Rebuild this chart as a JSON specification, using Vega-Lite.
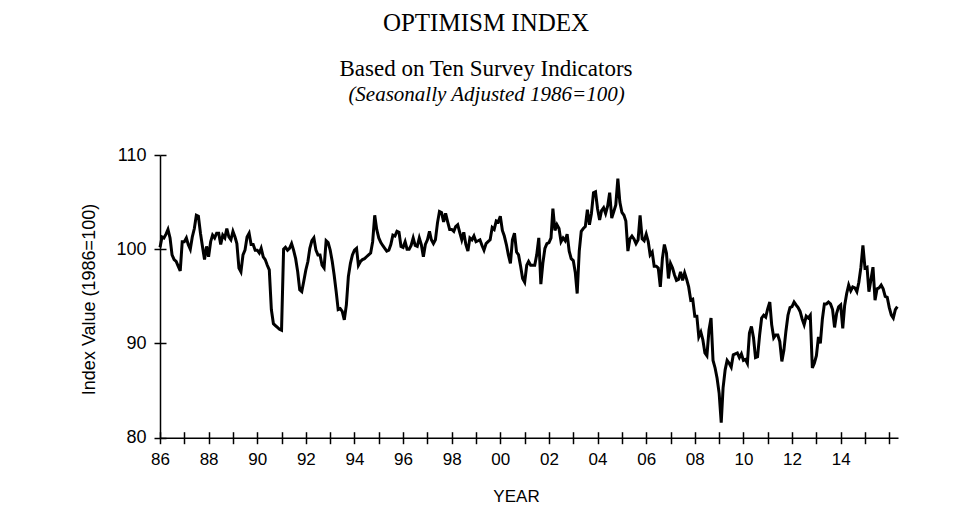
{
"$schema": "https://vega.github.io/schema/vega-lite/v6.json",
"width": 738, "height": 282.7,
"autosize": {"type": "none"},
"padding": {"left": 160, "top": 155, "right": 67, "bottom": 79.3},
"background": "white",
"config": {"view": {"stroke": null}},
"title": {"text": "OPTIMISM INDEX", "subtitle": "Based on Ten Survey Indicators", "font": "Liberation Serif", "fontSize": 25, "fontWeight": "normal", "color": "black", "subtitleFont": "Liberation Serif", "subtitleFontSize": 23, "subtitleColor": "black", "subtitlePadding": 22, "anchor": "middle", "frame": "group", "dx": -43, "offset": 2},
"data": {"values": [
{"d":"1986-01","v":100.2},{"d":"1986-02","v":101.3},{"d":"1986-03","v":101.2},{"d":"1986-04","v":101.6},{"d":"1986-05","v":102.1},{"d":"1986-06","v":101.2},{"d":"1986-07","v":99.4},{"d":"1986-08","v":98.9},{"d":"1986-09","v":98.7},{"d":"1986-10","v":98.2},{"d":"1986-11","v":97.7},{"d":"1986-12","v":100.8},
{"d":"1987-01","v":100.8},{"d":"1987-02","v":101.2},{"d":"1987-03","v":100.5},{"d":"1987-04","v":100.0},{"d":"1987-05","v":101.3},{"d":"1987-06","v":102.2},{"d":"1987-07","v":103.6},{"d":"1987-08","v":103.5},{"d":"1987-09","v":101.7},{"d":"1987-10","v":100.3},{"d":"1987-11","v":98.9},{"d":"1987-12","v":100.3},
{"d":"1988-01","v":99.2},{"d":"1988-02","v":100.8},{"d":"1988-03","v":101.5},{"d":"1988-04","v":101.2},{"d":"1988-05","v":101.7},{"d":"1988-06","v":101.7},{"d":"1988-07","v":100.5},{"d":"1988-08","v":101.5},{"d":"1988-09","v":101.2},{"d":"1988-10","v":102.2},{"d":"1988-11","v":101.3},{"d":"1988-12","v":101.0},
{"d":"1989-01","v":101.9},{"d":"1989-02","v":101.3},{"d":"1989-03","v":100.6},{"d":"1989-04","v":98.0},{"d":"1989-05","v":97.6},{"d":"1989-06","v":99.4},{"d":"1989-07","v":99.9},{"d":"1989-08","v":101.3},{"d":"1989-09","v":101.7},{"d":"1989-10","v":100.5},{"d":"1989-11","v":100.5},{"d":"1989-12","v":99.9},
{"d":"1990-01","v":99.9},{"d":"1990-02","v":99.6},{"d":"1990-03","v":100.1},{"d":"1990-04","v":99.2},{"d":"1990-05","v":98.9},{"d":"1990-06","v":98.3},{"d":"1990-07","v":97.8},{"d":"1990-08","v":93.6},{"d":"1990-09","v":92.1},{"d":"1990-10","v":91.9},{"d":"1990-11","v":91.7},{"d":"1990-12","v":91.5},
{"d":"1991-01","v":91.4},{"d":"1991-02","v":100.0},{"d":"1991-03","v":100.2},{"d":"1991-04","v":99.9},{"d":"1991-05","v":100.1},{"d":"1991-06","v":100.6},{"d":"1991-07","v":99.9},{"d":"1991-08","v":99.0},{"d":"1991-09","v":97.6},{"d":"1991-10","v":95.7},{"d":"1991-11","v":95.5},{"d":"1991-12","v":96.6},
{"d":"1992-01","v":97.8},{"d":"1992-02","v":98.7},{"d":"1992-03","v":100.1},{"d":"1992-04","v":100.9},{"d":"1992-05","v":101.2},{"d":"1992-06","v":99.9},{"d":"1992-07","v":99.4},{"d":"1992-08","v":99.4},{"d":"1992-09","v":98.3},{"d":"1992-10","v":98.0},{"d":"1992-11","v":100.9},{"d":"1992-12","v":100.7},
{"d":"1993-01","v":99.9},{"d":"1993-02","v":98.7},{"d":"1993-03","v":97.3},{"d":"1993-04","v":95.5},{"d":"1993-05","v":93.6},{"d":"1993-06","v":93.7},{"d":"1993-07","v":93.4},{"d":"1993-08","v":92.5},{"d":"1993-09","v":94.1},{"d":"1993-10","v":97.1},{"d":"1993-11","v":98.5},{"d":"1993-12","v":99.4},
{"d":"1994-01","v":99.9},{"d":"1994-02","v":100.1},{"d":"1994-03","v":98.3},{"d":"1994-04","v":98.7},{"d":"1994-05","v":98.9},{"d":"1994-06","v":99.0},{"d":"1994-07","v":99.2},{"d":"1994-08","v":99.4},{"d":"1994-09","v":99.6},{"d":"1994-10","v":100.8},{"d":"1994-11","v":103.6},{"d":"1994-12","v":102.1},
{"d":"1995-01","v":101.2},{"d":"1995-02","v":100.7},{"d":"1995-03","v":100.4},{"d":"1995-04","v":100.1},{"d":"1995-05","v":99.8},{"d":"1995-06","v":99.9},{"d":"1995-07","v":100.5},{"d":"1995-08","v":101.5},{"d":"1995-09","v":101.4},{"d":"1995-10","v":101.9},{"d":"1995-11","v":101.8},{"d":"1995-12","v":100.3},
{"d":"1996-01","v":100.2},{"d":"1996-02","v":100.8},{"d":"1996-03","v":100.0},{"d":"1996-04","v":100.0},{"d":"1996-05","v":100.4},{"d":"1996-06","v":101.2},{"d":"1996-07","v":100.4},{"d":"1996-08","v":100.3},{"d":"1996-09","v":101.2},{"d":"1996-10","v":100.5},{"d":"1996-11","v":99.2},{"d":"1996-12","v":100.5},
{"d":"1997-01","v":101.0},{"d":"1997-02","v":101.9},{"d":"1997-03","v":101.0},{"d":"1997-04","v":100.6},{"d":"1997-05","v":101.0},{"d":"1997-06","v":102.8},{"d":"1997-07","v":104.0},{"d":"1997-08","v":103.9},{"d":"1997-09","v":102.9},{"d":"1997-10","v":103.8},{"d":"1997-11","v":102.9},{"d":"1997-12","v":102.1},
{"d":"1998-01","v":102.1},{"d":"1998-02","v":101.9},{"d":"1998-03","v":102.4},{"d":"1998-04","v":102.6},{"d":"1998-05","v":101.8},{"d":"1998-06","v":101.0},{"d":"1998-07","v":101.8},{"d":"1998-08","v":100.5},{"d":"1998-09","v":99.8},{"d":"1998-10","v":101.2},{"d":"1998-11","v":101.0},{"d":"1998-12","v":101.4},
{"d":"1999-01","v":100.8},{"d":"1999-02","v":100.9},{"d":"1999-03","v":101.0},{"d":"1999-04","v":100.4},{"d":"1999-05","v":99.9},{"d":"1999-06","v":100.6},{"d":"1999-07","v":100.8},{"d":"1999-08","v":101.0},{"d":"1999-09","v":102.3},{"d":"1999-10","v":102.1},{"d":"1999-11","v":103.0},{"d":"1999-12","v":102.9},
{"d":"2000-01","v":103.5},{"d":"2000-02","v":102.0},{"d":"2000-03","v":101.4},{"d":"2000-04","v":100.5},{"d":"2000-05","v":99.4},{"d":"2000-06","v":98.5},{"d":"2000-07","v":101.0},{"d":"2000-08","v":101.7},{"d":"2000-09","v":99.7},{"d":"2000-10","v":99.4},{"d":"2000-11","v":98.2},{"d":"2000-12","v":96.9},
{"d":"2001-01","v":96.5},{"d":"2001-02","v":98.3},{"d":"2001-03","v":98.7},{"d":"2001-04","v":98.3},{"d":"2001-05","v":98.3},{"d":"2001-06","v":98.3},{"d":"2001-07","v":99.4},{"d":"2001-08","v":101.2},{"d":"2001-09","v":96.3},{"d":"2001-10","v":98.5},{"d":"2001-11","v":100.1},{"d":"2001-12","v":100.6},
{"d":"2002-01","v":100.7},{"d":"2002-02","v":101.2},{"d":"2002-03","v":104.3},{"d":"2002-04","v":102.0},{"d":"2002-05","v":102.6},{"d":"2002-06","v":102.2},{"d":"2002-07","v":100.8},{"d":"2002-08","v":101.2},{"d":"2002-09","v":100.9},{"d":"2002-10","v":101.6},{"d":"2002-11","v":99.8},{"d":"2002-12","v":99.0},
{"d":"2003-01","v":98.8},{"d":"2003-02","v":97.5},{"d":"2003-03","v":95.3},{"d":"2003-04","v":99.8},{"d":"2003-05","v":101.9},{"d":"2003-06","v":102.2},{"d":"2003-07","v":102.4},{"d":"2003-08","v":104.2},{"d":"2003-09","v":102.6},{"d":"2003-10","v":103.8},{"d":"2003-11","v":106.0},{"d":"2003-12","v":106.1},
{"d":"2004-01","v":104.3},{"d":"2004-02","v":103.1},{"d":"2004-03","v":104.1},{"d":"2004-04","v":104.4},{"d":"2004-05","v":103.8},{"d":"2004-06","v":104.6},{"d":"2004-07","v":106.0},{"d":"2004-08","v":103.3},{"d":"2004-09","v":104.0},{"d":"2004-10","v":104.7},{"d":"2004-11","v":107.5},{"d":"2004-12","v":105.0},
{"d":"2005-01","v":103.9},{"d":"2005-02","v":103.6},{"d":"2005-03","v":103.0},{"d":"2005-04","v":99.8},{"d":"2005-05","v":101.1},{"d":"2005-06","v":101.4},{"d":"2005-07","v":101.1},{"d":"2005-08","v":100.6},{"d":"2005-09","v":101.0},{"d":"2005-10","v":103.6},{"d":"2005-11","v":101.1},{"d":"2005-12","v":100.9},
{"d":"2006-01","v":101.6},{"d":"2006-02","v":100.8},{"d":"2006-03","v":99.4},{"d":"2006-04","v":99.7},{"d":"2006-05","v":98.2},{"d":"2006-06","v":98.2},{"d":"2006-07","v":98.0},{"d":"2006-08","v":96.0},{"d":"2006-09","v":99.0},{"d":"2006-10","v":100.5},{"d":"2006-11","v":99.6},{"d":"2006-12","v":96.9},
{"d":"2007-01","v":98.5},{"d":"2007-02","v":98.0},{"d":"2007-03","v":97.3},{"d":"2007-04","v":96.7},{"d":"2007-05","v":96.8},{"d":"2007-06","v":97.6},{"d":"2007-07","v":96.7},{"d":"2007-08","v":97.5},{"d":"2007-09","v":96.8},{"d":"2007-10","v":96.0},{"d":"2007-11","v":94.6},{"d":"2007-12","v":94.7},
{"d":"2008-01","v":92.9},{"d":"2008-02","v":92.9},{"d":"2008-03","v":90.7},{"d":"2008-04","v":91.2},{"d":"2008-05","v":90.4},{"d":"2008-06","v":89.0},{"d":"2008-07","v":88.7},{"d":"2008-08","v":91.4},{"d":"2008-09","v":92.7},{"d":"2008-10","v":88.2},{"d":"2008-11","v":87.4},{"d":"2008-12","v":86.3},
{"d":"2009-01","v":84.7},{"d":"2009-02","v":81.6},{"d":"2009-03","v":85.3},{"d":"2009-04","v":87.2},{"d":"2009-05","v":88.2},{"d":"2009-06","v":87.9},{"d":"2009-07","v":87.5},{"d":"2009-08","v":88.8},{"d":"2009-09","v":88.9},{"d":"2009-10","v":89.0},{"d":"2009-11","v":88.5},{"d":"2009-12","v":88.9},
{"d":"2010-01","v":88.2},{"d":"2010-02","v":88.3},{"d":"2010-03","v":87.9},{"d":"2010-04","v":91.1},{"d":"2010-05","v":91.8},{"d":"2010-06","v":90.6},{"d":"2010-07","v":88.5},{"d":"2010-08","v":88.6},{"d":"2010-09","v":90.9},{"d":"2010-10","v":92.7},{"d":"2010-11","v":93.0},{"d":"2010-12","v":92.8},
{"d":"2011-01","v":93.7},{"d":"2011-02","v":94.4},{"d":"2011-03","v":92.0},{"d":"2011-04","v":90.6},{"d":"2011-05","v":90.9},{"d":"2011-06","v":90.9},{"d":"2011-07","v":90.2},{"d":"2011-08","v":88.1},{"d":"2011-09","v":89.3},{"d":"2011-10","v":91.3},{"d":"2011-11","v":93.0},{"d":"2011-12","v":93.8},
{"d":"2012-01","v":93.9},{"d":"2012-02","v":94.4},{"d":"2012-03","v":94.1},{"d":"2012-04","v":93.8},{"d":"2012-05","v":93.4},{"d":"2012-06","v":92.6},{"d":"2012-07","v":92.0},{"d":"2012-08","v":92.9},{"d":"2012-09","v":92.7},{"d":"2012-10","v":93.0},{"d":"2012-11","v":87.4},{"d":"2012-12","v":87.9},
{"d":"2013-01","v":88.7},{"d":"2013-02","v":90.7},{"d":"2013-03","v":90.0},{"d":"2013-04","v":92.6},{"d":"2013-05","v":94.2},{"d":"2013-06","v":94.2},{"d":"2013-07","v":94.4},{"d":"2013-08","v":94.2},{"d":"2013-09","v":93.6},{"d":"2013-10","v":91.7},{"d":"2013-11","v":93.2},{"d":"2013-12","v":93.9},
{"d":"2014-01","v":94.1},{"d":"2014-02","v":91.6},{"d":"2014-03","v":94.0},{"d":"2014-04","v":95.3},{"d":"2014-05","v":96.2},{"d":"2014-06","v":95.6},{"d":"2014-07","v":96.0},{"d":"2014-08","v":95.9},{"d":"2014-09","v":95.5},{"d":"2014-10","v":96.5},{"d":"2014-11","v":98.1},{"d":"2014-12","v":100.4},
{"d":"2015-01","v":98.0},{"d":"2015-02","v":98.1},{"d":"2015-03","v":95.5},{"d":"2015-04","v":96.8},{"d":"2015-05","v":98.1},{"d":"2015-06","v":94.6},{"d":"2015-07","v":95.8},{"d":"2015-08","v":95.9},{"d":"2015-09","v":96.2},{"d":"2015-10","v":95.8},{"d":"2015-11","v":95.0},{"d":"2015-12","v":94.9},
{"d":"2016-01","v":93.8},{"d":"2016-02","v":93.0},{"d":"2016-03","v":92.7},{"d":"2016-04","v":93.6},{"d":"2016-05","v":93.9}
]},
"layer": [
{"mark": {"type": "line", "color": "black", "strokeWidth": 3},
 "encoding": {
  "x": {"field": "d", "type": "temporal",
   "scale": {"type": "utc", "domain": [{"year": 1986, "month": 1, "date": 1, "utc": true}, {"year": 2016, "month": 5, "date": 11, "utc": true}]},
   "axis": {"orient": "bottom", "title": "YEAR", "titleFont": "Liberation Sans", "titleFontSize": 17, "titleFontWeight": "normal", "titleColor": "black", "titleX": 356, "titleY": 64, "titleBaseline": "alphabetic", "titleAlign": "center",
    "tickCount": {"interval": "year", "step": 1},
    "labelExpr": "(utcyear(datum.value) % 2 == 0 && utcyear(datum.value) < 2016) ? utcFormat(datum.value, '%y') : ''",
    "labelFont": "Liberation Sans", "labelFontSize": 17, "labelColor": "black", "labelPadding": 8, "labelFlush": false, "labelOverlap": false,
    "tickSize": 6, "tickWidth": 1.5, "tickColor": "black", "domainColor": "black", "domainWidth": 1.5, "grid": false}},
  "y": {"field": "v", "type": "quantitative",
   "scale": {"domain": [80, 110], "nice": false, "zero": false},
   "axis": {"orient": "left", "title": "Index Value (1986=100)", "values": [80, 90, 100, 110], "titleFont": "Liberation Sans", "titleFontSize": 18, "titleFontWeight": "normal", "titleColor": "black", "titleX": -66, "titleY": 144, "titleBaseline": "alphabetic", "titleAlign": "center",
    "labelFont": "Liberation Sans", "labelFontSize": 18, "labelColor": "black", "labelPadding": 8, "labelFlush": false,
    "tickSize": 6, "tickWidth": 1.5, "tickColor": "black", "domainColor": "black", "domainWidth": 1.5, "grid": false}}
 }},
{"mark": {"type": "line", "opacity": 0},
 "encoding": {
  "x": {"field": "d", "type": "temporal",
   "axis": {"orient": "top", "title": "(Seasonally Adjusted 1986=100)", "titleFont": "Liberation Serif", "titleFontStyle": "italic", "titleFontSize": 21, "titleFontWeight": "normal", "titleColor": "black", "titleX": 326, "titleY": -55, "titleBaseline": "alphabetic", "titleAlign": "center", "domain": false, "ticks": false, "labels": false, "grid": false}},
  "y": {"field": "v", "type": "quantitative",
   "axis": {"orient": "left", "title": null, "values": [80, 90, 100, 110], "tickSize": -6, "tickWidth": 1.5, "tickColor": "black", "domain": false, "labels": false, "grid": false}}
 }},
{"mark": {"type": "line", "opacity": 0},
 "encoding": {
  "x": {"field": "d", "type": "temporal",
   "axis": {"orient": "bottom", "title": null, "tickCount": {"interval": "year", "step": 1}, "tickSize": -6, "tickWidth": 1.5, "tickColor": "black", "domain": false, "labels": false, "grid": false}},
  "y": {"field": "v", "type": "quantitative", "axis": null}
 }}
],
"resolve": {"axis": {"x": "independent", "y": "independent"}}
}
